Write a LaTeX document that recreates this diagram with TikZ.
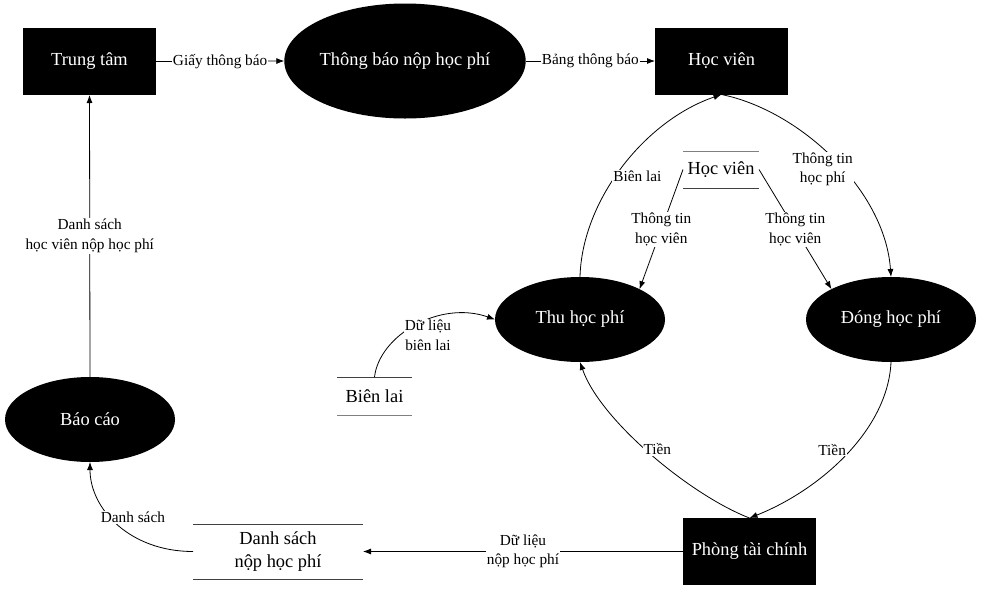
\documentclass[tikz,border=0pt]{standalone}
\usepackage{fontspec}
\setmainfont{Liberation Serif}
\usetikzlibrary{shapes.geometric,arrows.meta}
\begin{document}
\begin{tikzpicture}[x=1pt,y=-1pt,
  nf/.style={font=\fontsize{18.4}{23}\selectfont},
  lf/.style={font=\fontsize{15.3}{19.5}\selectfont},
  ent/.style={nf, fill=black, text=white, minimum width=133pt, minimum height=67pt, inner sep=0pt, outer sep=0pt},
  proc/.style={nf, ellipse, fill=black, text=white, minimum width=170pt, minimum height=85pt, inner sep=0pt, outer sep=0pt},
  store/.style={nf, align=center, inner sep=0pt, outer sep=0pt},
  storeline/.style={line width=0.8pt, draw=black!75},
  lbl/.style={lf, fill=white, align=center, inner sep=1pt},
  flow/.style={draw=black, line width=0.8pt, -{Latex[length=8pt,width=6pt]}},
]
\useasboundingbox (0,0) rectangle (982,592);

% entities
\node[ent] (tt) at (89.5,61.5) {Trung tâm};
\node[ent] (hv) at (721.5,61) {Học viên};
\node[ent] (pt) at (749.5,551.5) {Phòng tài chính};
% processes
\node[proc, minimum width=234pt, minimum height=115pt] (tb) at (405,61) {Thông báo nộp học phí};
\node[proc] (thu) at (580,319.5) {Thu học phí};
\node[proc] (dong) at (891,319.5) {Đóng học phí};
\node[proc] (bc) at (90,419.5) {Báo cáo};
% stores
\node[store, minimum width=76pt, minimum height=37pt] (hvs) at (721,169.5) {Học viên};
\node[store, minimum width=75pt, minimum height=38pt] (bls) at (374.5,396) {Biên lai};
\node[store, minimum width=170pt, minimum height=55pt] (ds) at (278,551.5) {Danh sách\\nộp học phí};
\draw[storeline, draw=black!50] (hvs.north west) -- (hvs.north east);
\draw[storeline] (hvs.south west) -- (hvs.south east);
\draw[storeline] (bls.north west) -- (bls.north east);
\draw[storeline, draw=black!50] (bls.south west) -- (bls.south east);
\draw[storeline] (ds.north west) -- (ds.north east);
\draw[storeline] (ds.south west) -- (ds.south east);

% flows
\draw[flow] (tt.east) -- node[lbl]{Giấy thông báo} (tb.west);
\draw[flow] (tb.east) -- node[lbl]{Bảng thông báo} (hv.west);
\draw[flow] (bc.north) -- node[lbl]{Danh sách\\học viên nộp học phí} (tt.south);
\draw[flow] (pt.west) -- node[lbl]{Dữ liệu\\nộp học phí} (ds.east);
\draw[flow] (hvs.west) -- node[lbl]{Thông tin\\học viên} (thu.27);
\draw[flow] (hvs.east) -- node[lbl]{Thông tin\\học viên} (dong.153);
\draw[flow] (thu.north) .. controls +(2,-77) and +(-76.5,26) .. node[lbl,pos=.45,xshift=22pt]{Biên lai} (hv.south);
\draw[flow] (hv.south) .. controls +(78.5,16) and +(-6,-87) .. node[lbl,pos=.55,xshift=-20pt]{Thông tin\\học phí} (dong.north);
\draw[flow] (pt.north) .. controls +(-59.5,-23) and +(20,58) .. node[lbl,pos=.55,xshift=17pt,yshift=-5pt]{Tiền} (thu.south);
\draw[flow] (dong.south) .. controls +(-3,68) and +(70.5,-28) .. node[lbl,pos=.45,xshift=-21pt,yshift=-3pt]{Tiền} (pt.north);
\draw[flow] (bls.north) .. controls +(5,-42) and +(-55,-19.5) .. node[lbl,pos=.5,xshift=12pt,yshift=-10pt]{Dữ liệu\\biên lai} (thu.west);
\draw[flow] (ds.west) .. controls +(-63,0) and +(0,47) .. node[lbl,pos=.5,xshift=15pt,yshift=7pt]{Danh sách} (bc.south);
\end{tikzpicture}
\end{document}
